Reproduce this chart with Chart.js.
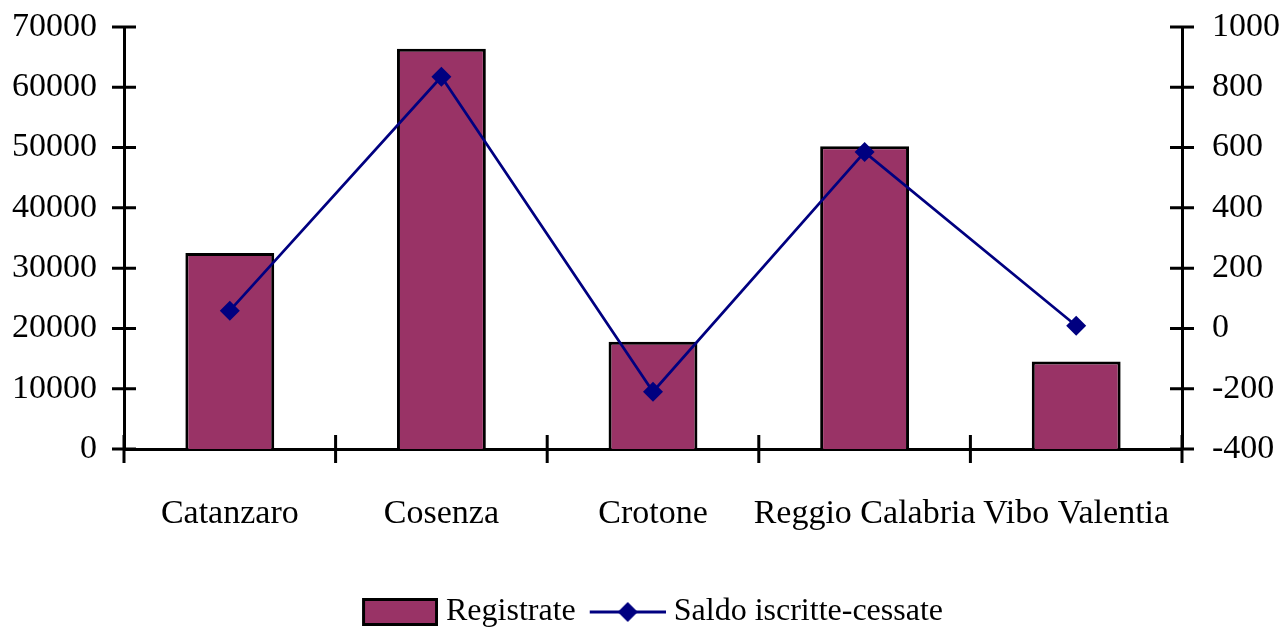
<!DOCTYPE html>
<html>
<head>
<meta charset="utf-8">
<script src="https://cdn.jsdelivr.net/npm/chart.js@4/dist/chart.umd.min.js"></script>
<style>
  html, body { margin: 0; padding: 0; background: #fff; }
  #wrap { width: 1279px; height: 631px; }
</style>
</head>
<body>
<div id="wrap"><canvas id="canvas" width="1279" height="631"></canvas></div>
<script>
const categories = ['Catanzaro', 'Cosenza', 'Crotone', 'Reggio Calabria', 'Vibo Valentia'];
const registrate = [32500, 66400, 17800, 50200, 14500];
const saldo = [59, 835, -210, 585, 9];

const FONT = "'Liberation Serif', 'DejaVu Serif', serif";
const PLUM = '#993366';
const NAVY = '#000080';

// legend swatches: 92 wide, the visible part sits in the right 76 px
const makeSwatch = (kind) => {
    const c = document.createElement('canvas');
    c.width = 92;
    c.height = 28;
    const g = c.getContext('2d');
    const x0 = 16;
    if (kind === 'bar') {
        g.fillStyle = PLUM;
        g.fillRect(x0 + 2, 2, 72, 24);
        g.strokeStyle = '#000';
        g.lineWidth = 3;
        g.strokeRect(x0 + 1.5, 1.5, 73, 25);
    } else {
        g.strokeStyle = NAVY;
        g.lineWidth = 3;
        g.beginPath();
        g.moveTo(x0, 14);
        g.lineTo(x0 + 76, 14);
        g.stroke();
        g.fillStyle = NAVY;
        g.beginPath();
        g.moveTo(x0 + 38 - 10, 14);
        g.lineTo(x0 + 38, 4);
        g.lineTo(x0 + 38 + 10, 14);
        g.lineTo(x0 + 38, 24);
        g.closePath();
        g.fill();
    }
    return c;
};

// ticks that cross the axis lines
const crossTicks = {
    id: 'crossTicks',
    afterLayout(chart) {
        // nudge the legend a little to the right, as in the original
        if (chart.legend) {
            chart.legend.left += 9;
            chart.legend.right += 9;
        }
    },
    afterDraw(chart) {
        const ctx = chart.ctx;
        const area = chart.chartArea;
        ctx.save();
        ctx.strokeStyle = '#000';
        ctx.lineWidth = 3;
        ctx.beginPath();
        const y = chart.scales.y;
        y.ticks.forEach((t, i) => {
            const py = y.getPixelForTick(i);
            ctx.moveTo(area.left - 12, py);
            ctx.lineTo(area.left + 12, py);
        });
        const y2 = chart.scales.y2;
        y2.ticks.forEach((t, i) => {
            const py = y2.getPixelForTick(i);
            ctx.moveTo(area.right - 12, py);
            ctx.lineTo(area.right + 12, py);
        });
        const x = chart.scales.x;
        const xs = [area.left];
        for (let i = 1; i < x.ticks.length; i++) {
            xs.push((x.getPixelForTick(i - 1) + x.getPixelForTick(i)) / 2);
        }
        xs.push(area.right);
        xs.forEach(px => {
            ctx.moveTo(px, area.bottom - 14);
            ctx.lineTo(px, area.bottom + 14);
        });
        ctx.stroke();
        ctx.restore();
    }
};

const swatches = [makeSwatch('bar'), makeSwatch('line')];
const plain = (v) => String(v);
const fitY = (w) => (s) => { s.width = w; s.paddingTop = 0; s.paddingBottom = 0; };

const ctx = document.getElementById('canvas').getContext('2d');
new Chart(ctx, {
    data: {
        labels: categories,
        datasets: [{
            type: 'bar',
            label: 'Registrate',
            data: registrate,
            backgroundColor: PLUM,
            borderColor: '#000',
            borderWidth: 3,
            barPercentage: 0.42,
            categoryPercentage: 1,
            yAxisID: 'y',
            order: 1
        }, {
            type: 'line',
            label: 'Saldo iscritte-cessate',
            data: saldo,
            borderColor: NAVY,
            backgroundColor: NAVY,
            borderWidth: 2.7,
            pointStyle: 'rectRot',
            pointRadius: 10,
            pointBorderWidth: 0,
            tension: 0,
            yAxisID: 'y2',
            order: 0
        }]
    },
    options: {
        responsive: false,
        animation: false,
        devicePixelRatio: 1,
        layout: { padding: { top: 27, left: 0, right: 0, bottom: -7 } },
        plugins: {
            tooltip: { enabled: false },
            legend: {
                position: 'bottom',
                labels: {
                    usePointStyle: true,
                    pointStyleWidth: 76,
                    padding: 6,
                    color: '#000',
                    font: { family: FONT, size: 32, lineHeight: 1 },
                    generateLabels: (chart) => chart.data.datasets.map((d, i) => ({
                        text: d.label,
                        pointStyle: swatches[i],
                        fillStyle: 'transparent',
                        strokeStyle: 'transparent',
                        lineWidth: 0,
                        fontColor: '#000',
                        datasetIndex: i,
                        hidden: false
                    }))
                }
            }
        },
        scales: {
            x: {
                offset: true,
                grid: { display: false, drawTicks: false },
                border: { display: true, color: '#000', width: 3 },
                ticks: { color: '#000', padding: 45, font: { family: FONT, size: 34 }, maxRotation: 0, autoSkip: false },
                afterFit: (s) => { s.height = 141; }
            },
            y: {
                position: 'left',
                min: 0,
                max: 70000,
                grid: { display: false, drawTicks: false },
                border: { display: true, color: '#000', width: 3 },
                ticks: { stepSize: 10000, color: '#000', padding: 27, font: { family: FONT, size: 34 }, callback: plain },
                afterFit: fitY(124)
            },
            y2: {
                position: 'right',
                min: -400,
                max: 1000,
                grid: { display: false, drawTicks: false },
                border: { display: true, color: '#000', width: 3 },
                ticks: { stepSize: 200, color: '#000', padding: 30, font: { family: FONT, size: 34 }, callback: plain },
                afterFit: fitY(97)
            }
        }
    },
    plugins: [crossTicks]
});
</script>
</body>
</html>
